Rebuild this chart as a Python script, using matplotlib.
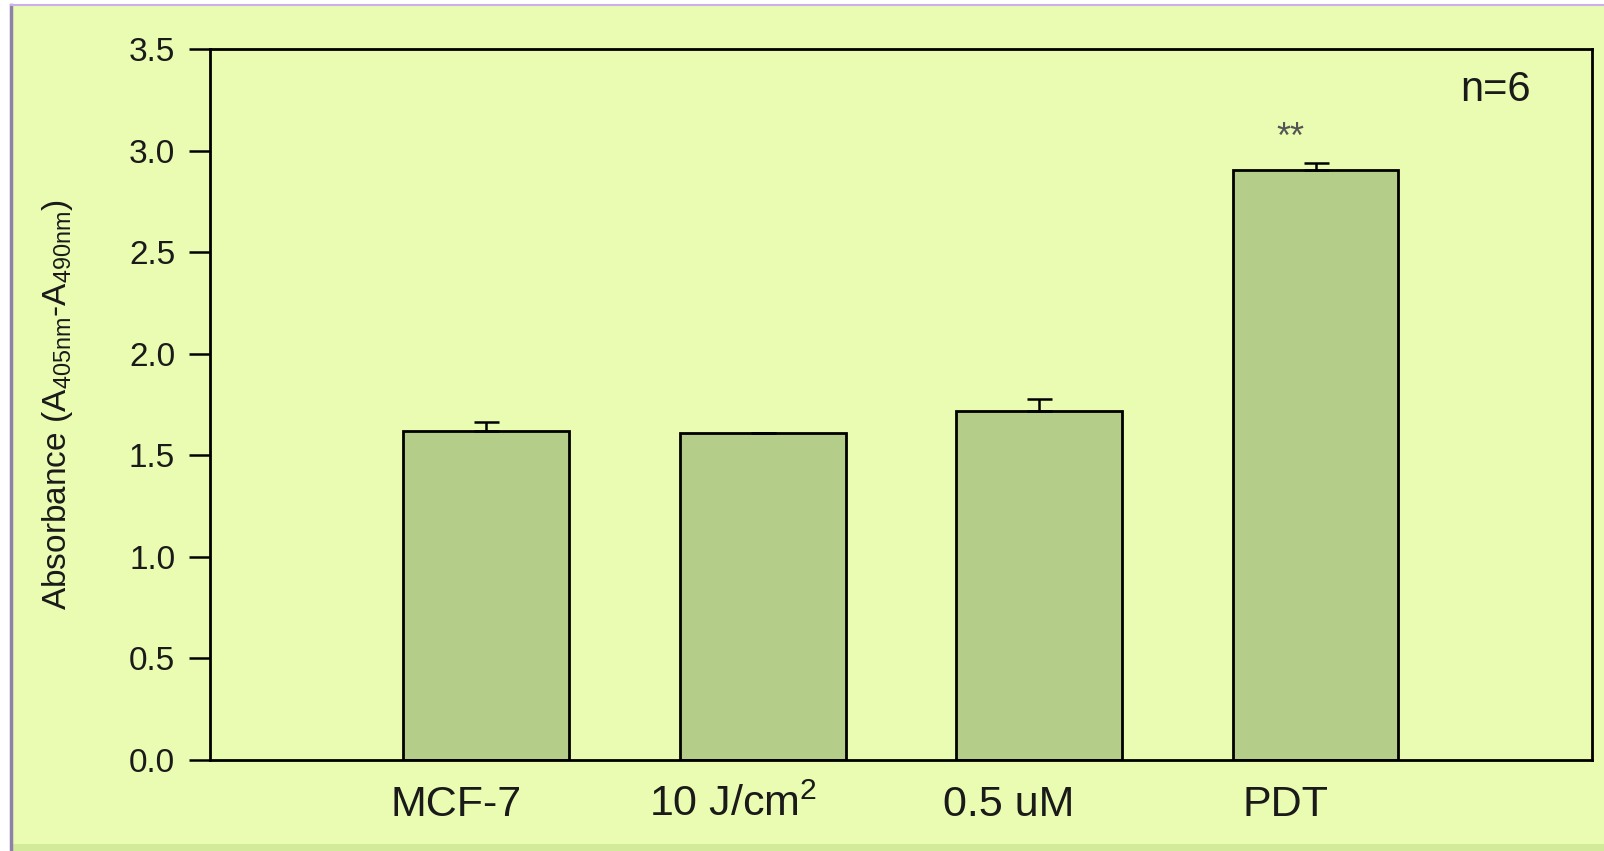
import matplotlib
matplotlib.use('Agg')
import matplotlib.pyplot as plt
import matplotlib.transforms as mtransforms
from matplotlib.patches import Rectangle
import numpy as np

# data
categories = ['MCF-7', '10 J/cm$^2$', '0.5 uM', 'PDT']
means = [1.62, 1.61, 1.72, 2.905]
errors = [0.044, 0.0, 0.059, 0.034]
signif = ['', '', '', '**']
y_ticks = [0.0, 0.5, 1.0, 1.5, 2.0, 2.5, 3.0, 3.5]

bg = '#EAFCB2'
bar_color = '#B4CD89'
txt = '#1A1A1A'

plt.rcParams['font.family'] = ['Liberation Sans', 'DejaVu Sans']
plt.rcParams['mathtext.fontset'] = 'custom'
plt.rcParams['mathtext.rm'] = 'Liberation Sans'
plt.rcParams['mathtext.it'] = 'Liberation Sans'

fig = plt.figure(figsize=(16.04, 8.51), dpi=100)
fig.patch.set_facecolor('white')

# page-like frame around the chart
fig.patches.append(Rectangle((11 / 1604, 0), 1, 1 - 6 / 851, transform=fig.transFigure,
                             facecolor=bg, edgecolor='none', zorder=-10))
fig.patches.append(Rectangle((11 / 1604, 0), 1, 7 / 851, transform=fig.transFigure,
                             facecolor='#D2EA9A', edgecolor='none', zorder=-9))
fig.add_artist(plt.Line2D([11 / 1604, 11 / 1604], [0, 1 - 5 / 851], transform=fig.transFigure,
                          color='#8E80A8', lw=2.5))
fig.add_artist(plt.Line2D([11 / 1604, 1], [1 - 5 / 851, 1 - 5 / 851], transform=fig.transFigure,
                          color='#C9B0EC', lw=1.5))

ax = fig.add_axes([0.1309, 0.1069, 0.8616, 0.8355])
ax.set_facecolor(bg)

x = np.arange(len(categories))
ax.bar(x, means, width=0.6, color=bar_color, edgecolor='black', linewidth=2.0, zorder=2)
ax.errorbar(x, means, yerr=[np.zeros(len(errors)), errors], fmt='none', ecolor='black',
            elinewidth=1.8, capsize=9, capthick=1.8, zorder=3)

for xi, m, e, s in zip(x, means, errors, signif):
    if s:
        ax.text(xi - 0.09, m + e + 0.12, s, ha='center', va='center', fontsize=26, color='#555555')

ax.text(0.9306, 0.942, 'n=6', transform=ax.transAxes, ha='center', va='center', fontsize=30,
        color=txt)

ax.set_xlim(-1.0, 4.0)
ax.set_ylim(0, 3.5)
ax.set_yticks(y_ticks)
ax.set_yticklabels([f'{v:.1f}' for v in y_ticks], fontsize=24, color=txt)
ax.set_xticks(x)
ax.set_xticklabels(categories, fontsize=31, color=txt)
ax.tick_params(axis='x', length=0, pad=18)
ax.tick_params(axis='y', direction='out', length=15, width=1.8, pad=10)

offset = mtransforms.ScaledTranslation(-30 / 100, 0, fig.dpi_scale_trans)
for lab in ax.get_xticklabels():
    lab.set_transform(lab.get_transform() + offset)

ax.set_ylabel(r'Absorbance (A$_{\mathrm{405nm}}$-A$_{\mathrm{490nm}}$)', fontsize=24, color=txt)
ax.yaxis.set_label_coords(-0.098, 0.5)

for sp in ax.spines.values():
    sp.set_linewidth(2.0)
    sp.set_color('black')

fig.savefig('out.png', dpi=100, facecolor=fig.get_facecolor())
